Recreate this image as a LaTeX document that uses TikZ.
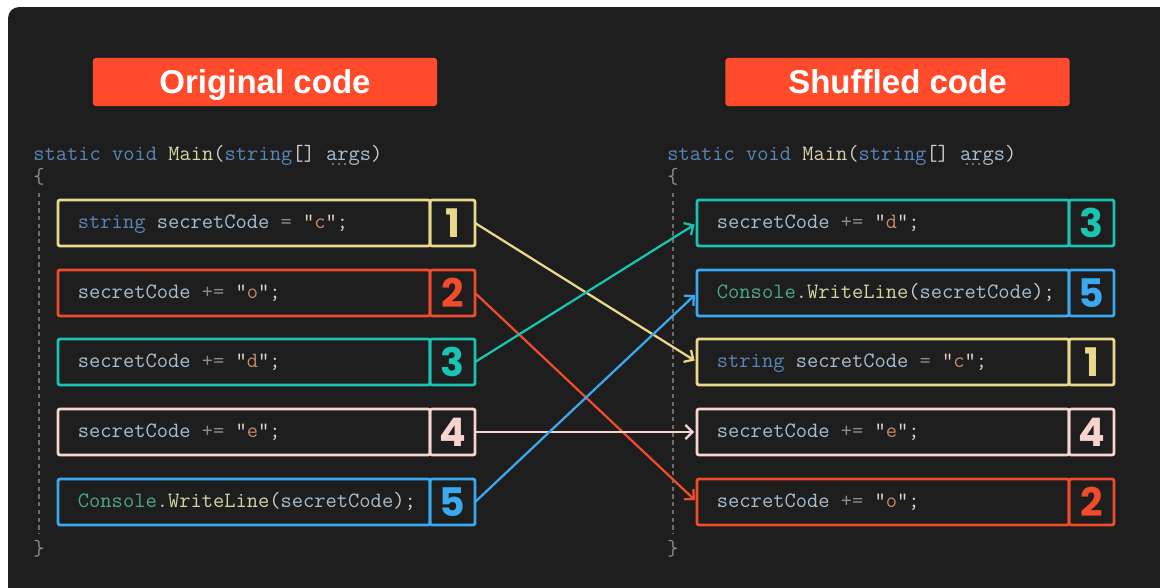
\documentclass[tikz,border=0pt]{standalone}
\usepackage{fontspec}
\usetikzlibrary{positioning}
\usetikzlibrary{arrows.meta}

\newfontfamily\titlefont{Liberation Sans}
\newfontfamily\numfont{Poppins}

\definecolor{bgdark}{HTML}{1E1E1E}
\definecolor{titlered}{HTML}{FF4B2B}
\definecolor{yellowc}{HTML}{EAD98B}
\definecolor{redc}{HTML}{F04B2B}
\definecolor{tealc}{HTML}{19C4B2}
\definecolor{pinkc}{HTML}{F7D5CD}
\definecolor{bluec}{HTML}{3BA9F0}
\definecolor{codefg}{HTML}{D0D0D0}
\definecolor{kwc}{HTML}{5A86B8}
\definecolor{varc}{HTML}{A9BFD0}
\definecolor{opc}{HTML}{8C8C8C}
\definecolor{strc}{HTML}{C58B6A}
\definecolor{quotec}{HTML}{E2D6C8}
\definecolor{clsc}{HTML}{4FA88C}
\definecolor{mthc}{HTML}{D8D3A5}
\definecolor{guidec}{HTML}{6E6E6E}

\newcommand{\codefont}{\fontsize{15.55pt}{18pt}\ttfamily}
\newcommand{\ckw}[1]{\textcolor{kwc}{#1}}
\newcommand{\cvar}[1]{\textcolor{varc}{#1}}
\newcommand{\cop}[1]{\textcolor{opc}{#1}}
\newcommand{\cstr}[1]{\textcolor{quotec}{"}\textcolor{strc}{#1}\textcolor{quotec}{"}}
\newcommand{\ccls}[1]{\textcolor{clsc}{#1}}
\newcommand{\cmth}[1]{\textcolor{mthc}{#1}}

\tikzset{
  titlebox/.style={fill=titlered, rounded corners=2pt, minimum width=8.6cm,
    minimum height=1.2cm, text=white, text height=16.8pt, text depth=0pt,
    font=\fontsize{23.5pt}{26pt}\titlefont\bfseries},
  hdr/.style={inner sep=0pt, text=codefg, font=\codefont},
  codebox/.style={draw=#1, line width=2pt, rounded corners=1.5pt,
    minimum width=9.3cm, minimum height=1.15cm, text width=8.3cm,
    inner xsep=0.5cm, inner ysep=0pt, align=flush left, text height=11pt,
    text depth=2.5pt, text=codefg, font=\codefont, outer sep=0pt},
  numbox/.style={draw=#1, text=#1, line width=2pt, rounded corners=1.5pt,
    minimum width=1.125cm, minimum height=1.15cm, inner sep=0pt,
    outer sep=0pt, font=\fontsize{28pt}{28pt}\numfont\bfseries},
  guide/.style={draw=guidec, line width=1.2pt, dash pattern=on 3pt off 2.5pt},
  link/.style={draw=#1, line width=1.6pt,
    -{Straight Barb[length=5pt,width=10pt]}, shorten >=2pt}
}

\begin{document}
\begin{tikzpicture}[x=0.025cm, y=-0.025cm]
  \useasboundingbox (0,0) rectangle (1160,587);
  \fill[white] (0,0) rectangle (1160,587);
  \begin{scope}
    \clip (0,0) rectangle (1160,587);
    \fill[bgdark, rounded corners=8pt] (8,7) rectangle (1180,607);
  \end{scope}

  % headings
  \node (torig) [titlebox] at (265,82) {Original code};
  \node (tshuf) [titlebox] at (897.5,82) {Shuffled code};

  % original listing
  \node (hdrl) [hdr, anchor=base west] at (33,160)
    {\ckw{static void} \cmth{Main}(\ckw{string}[] \cvar{args})};
  \node (obl) [hdr, anchor=west, text=opc] at (33,177) {\{};
  \node (cbl) [hdr, anchor=west, text=opc] at (33,549) {\}};
  \draw[guide] ([yshift=-5pt]obl.south) -- ([yshift=5pt]cbl.north);
  \fill[opc] (333,164) circle (1.1) (339,164) circle (1.1) (345,164) circle (1.1);

  \node (l1) [codebox=yellowc] at (244,223)
    {\ckw{string} \cvar{secretCode} \cop{=} \cstr{c};};
  \node (n1) [numbox=yellowc, right=0pt of l1] {1};
  \node (l2) [codebox=redc] at (244,293)
    {\cvar{secretCode} \cop{+=} \cstr{o};};
  \node (n2) [numbox=redc, right=0pt of l2] {2};
  \node (l3) [codebox=tealc] at (244,362)
    {\cvar{secretCode} \cop{+=} \cstr{d};};
  \node (n3) [numbox=tealc, right=0pt of l3] {3};
  \node (l4) [codebox=pinkc] at (244,432)
    {\cvar{secretCode} \cop{+=} \cstr{e};};
  \node (n4) [numbox=pinkc, right=0pt of l4] {4};
  \node (l5) [codebox=bluec] at (244,502)
    {\ccls{Console}.\cmth{WriteLine}(\cvar{secretCode});};
  \node (n5) [numbox=bluec, right=0pt of l5] {5};

  % shuffled listing
  \node (hdrr) [hdr, anchor=base west] at (667,160)
    {\ckw{static void} \cmth{Main}(\ckw{string}[] \cvar{args})};
  \node (obr) [hdr, anchor=west, text=opc] at (667,177) {\{};
  \node (cbr) [hdr, anchor=west, text=opc] at (667,549) {\}};
  \draw[guide] ([yshift=-5pt]obr.south) -- ([yshift=5pt]cbr.north);
  \fill[opc] (967,164) circle (1.1) (973,164) circle (1.1) (979,164) circle (1.1);

  \node (s3) [codebox=tealc] at (883,223)
    {\cvar{secretCode} \cop{+=} \cstr{d};};
  \node (m3) [numbox=tealc, right=0pt of s3] {3};
  \node (s5) [codebox=bluec] at (883,293)
    {\ccls{Console}.\cmth{WriteLine}(\cvar{secretCode});};
  \node (m5) [numbox=bluec, right=0pt of s5] {5};
  \node (s1) [codebox=yellowc] at (883,362)
    {\ckw{string} \cvar{secretCode} \cop{=} \cstr{c};};
  \node (m1) [numbox=yellowc, right=0pt of s1] {1};
  \node (s4) [codebox=pinkc] at (883,432)
    {\cvar{secretCode} \cop{+=} \cstr{e};};
  \node (m4) [numbox=pinkc, right=0pt of s4] {4};
  \node (s2) [codebox=redc] at (883,502)
    {\cvar{secretCode} \cop{+=} \cstr{o};};
  \node (m2) [numbox=redc, right=0pt of s2] {2};

  % moves
  \draw[link=yellowc] (n1.east) -- (s1.west);
  \draw[link=redc] (n2.east) -- (s2.west);
  \draw[link=tealc] (n3.east) -- (s3.west);
  \draw[link=pinkc] (n4.east) -- (s4.west);
  \draw[link=bluec] (n5.east) -- (s5.west);
\end{tikzpicture}
\end{document}
